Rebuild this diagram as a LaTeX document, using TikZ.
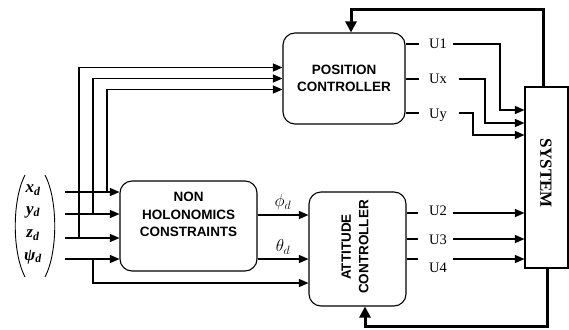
\documentclass[tikz,border=0pt]{standalone}
\usepackage{fontspec}
\setmainfont{Liberation Serif}
\newfontfamily\boxfont{Liberation Sans}
\usetikzlibrary{arrows.meta}
\usetikzlibrary{positioning}

\tikzstyle{ctrl} = [rectangle, rounded corners=12pt, draw=black, line width=1.1pt]
\tikzstyle{ctrltext} = [align=center, inner sep=0pt, font=\boxfont\bfseries\fontsize{13.5}{17.5}\selectfont]
\tikzstyle{plant} = [rectangle, draw=black, line width=1.1pt]
\tikzstyle{wire} = [line width=1.3pt]
\tikzstyle{arrow} = [line width=1.3pt, -{Triangle[length=9.5pt,width=8pt]}]
\tikzstyle{feedback} = [line width=3pt, -{Triangle[length=11pt,width=11pt]}]
\tikzstyle{sig} = [inner xsep=6pt, font=\fontsize{14.5}{16}\selectfont]
\tikzstyle{angle} = [above=1pt, font=\fontsize{17}{19}\selectfont]
\tikzstyle{ref} = [inner sep=0pt, font=\bfseries\itshape\fontsize{17}{19}\selectfont]

\begin{document}
\begin{tikzpicture}[x=1pt, y=-1pt]
    \useasboundingbox (0,0) rectangle (569,329);

        % blocks
        \node (poscon) [ctrl, minimum width=122pt, minimum height=91pt] at (344,78.5) {};
        \node (poslabel) [ctrltext] at (344,78.5) {POSITION\\CONTROLLER};
        \node (nhc) [ctrl, minimum width=137pt, minimum height=90pt] at (188.5,226) {};
        \node (nhclabel) [ctrltext] at (188.5,214.5) {NON\\HOLONOMICS\\CONSTRAINTS};
        \node (attcon) [ctrl, minimum width=97pt, minimum height=114pt] at (357.5,249) {};
        \node (attlabel) [ctrltext, rotate=90] at (355,247) {ATTITUDE\\CONTROLLER};
        \node (system) [plant, minimum width=43pt, minimum height=181pt] at (546.5,177.5) {};
        \node (syslabel) [rotate=-90, font=\bfseries\fontsize{17}{20}\selectfont] at (546,173) {SYSTEM};

        % reference vector
        \node (xd) [ref] at (33,190) {x\textsubscript{d}};
        \node (yd) [ref] at (33,212) {y\textsubscript{d}};
        \node (zd) [ref] at (33,235) {z\textsubscript{d}};
        \node (psid) [ref] at (33,257) {ψ\textsubscript{d}};
        \draw [line width=0.9pt] (25,175) .. controls (12,200) and (12,252) .. (25,277);
        \draw [line width=0.9pt] (45,175) .. controls (58,200) and (58,252) .. (45,277);

        \coordinate (inx) at (65,192);
        \coordinate (iny) at (65,214);
        \coordinate (inz) at (65,238);
        \coordinate (inpsi) at (65,259);
        \coordinate (jx) at (107,192);
        \coordinate (jy) at (93,214);
        \coordinate (jz) at (79,238);
        \coordinate (jpsi) at (93,259);

        \draw [arrow] (inx) -- (inx -| nhc.west);
        \draw [arrow] (iny) -- (iny -| nhc.west);
        \draw [arrow] (inz) -- (inz -| nhc.west);
        \draw [arrow] (inpsi) -- (inpsi -| nhc.west);

        \draw [arrow] (jx) |- ([yshift=-11pt]poscon.west);
        \draw [arrow] (jy) |- (poscon.west);
        \draw [arrow] (jz) |- ([yshift=11pt]poscon.west);
        \draw [arrow] (jpsi) |- ([yshift=-34pt]attcon.west);

        % desired angles
        \draw [arrow] ([yshift=11pt]nhc.east) -- node [angle] {$\phi_d$} ([yshift=11pt]nhc.east -| attcon.west);
        \draw [arrow] ([yshift=-33pt]nhc.east) -- node [angle] {$\theta_d$} ([yshift=-33pt]nhc.east -| attcon.west);

        % position controller outputs
        \node (u1) [sig] at (438,44) {U1};
        \node (ux) [sig] at (438,79) {Ux};
        \node (uy) [sig] at (438,115) {Uy};
        \draw [wire] ([yshift=34.5pt]poscon.east) -- ++(13,0);
        \draw [wire] ([yshift=-0.5pt]poscon.east) -- ++(13,0);
        \draw [wire] ([yshift=-34.5pt]poscon.east) -- ++(13,0);
        \draw [arrow] ([yshift=34.5pt]poscon.east -| u1.east) -| (500,96) |- ([yshift=67.5pt]system.west);
        \draw [arrow] ([yshift=-0.5pt]poscon.east -| ux.east) ++(6,0) -| (485,110) |- ([yshift=54.5pt]system.west);
        \draw [arrow] ([yshift=-34.5pt]poscon.east -| uy.east) ++(6,0) -| (473,125) |- ([yshift=42.5pt]system.west);

        % attitude controller outputs
        \node (u2) [sig] at (438,211) {U2};
        \node (u3) [sig] at (438,240) {U3};
        \node (u4) [sig] at (438,268) {U4};
        \draw [wire] ([yshift=36pt]attcon.east) -- ++(11,0);
        \draw [wire] ([yshift=10pt]attcon.east) -- ++(11,0);
        \draw [wire] ([yshift=-10pt]attcon.east) -- ++(11,0);
        \draw [arrow] ([yshift=36pt]attcon.east -| u2.east) -- ([yshift=36pt]attcon.east -| system.west);
        \draw [arrow] ([yshift=10pt]attcon.east -| u3.east) -- ([yshift=10pt]attcon.east -| system.west);
        \draw [arrow] ([yshift=-10pt]attcon.east -| u4.east) -- ([yshift=-10pt]attcon.east -| system.west);

        % feedback
        \coordinate (fbtop) at (543,10);
        \coordinate (fbbot) at (547,326);
        \draw [feedback] (system.north -| fbtop) -- (fbtop) -| ([xshift=7pt]poscon.north);
        \draw [feedback] (system.south -| fbbot) -- (fbbot) -| ([xshift=7.5pt]attcon.south);

\end{tikzpicture}
\end{document}
